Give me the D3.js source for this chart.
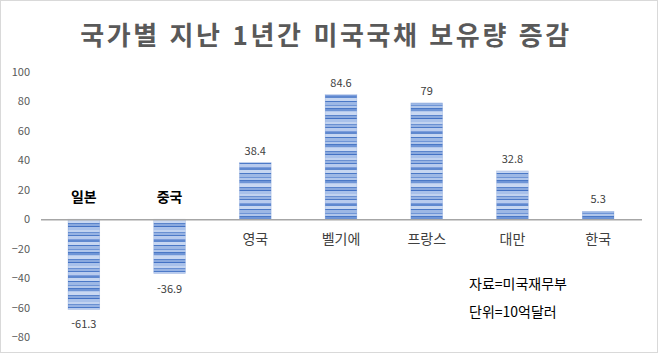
<!DOCTYPE html>
<html lang="ko">
<head>
<meta charset="utf-8">
<title>국가별 미국국채 보유량 증감</title>
<script src="https://d3js.org/d3.v7.min.js"></script>
<style>
  body { margin: 0; background: #fff; }
  text { font-family: "Noto Sans CJK KR", "Malgun Gothic", sans-serif; }
</style>
</head>
<body>
<div id="chart"></div>
<script>
// data
var countries = ["일본", "중국", "영국", "벨기에", "프랑스", "대만", "한국"];
var changes = [-61.3, -36.9, 38.4, 84.6, 79, 32.8, 5.3];
var yTicks = [100, 80, 60, 40, 20, 0, -20, -40, -60, -80];

var width = 658, height = 353;
var margin = {top: 72, right: 16, bottom: 16, left: 41};

var svg = d3.select("#chart").append("svg")
    .attr("width", width)
    .attr("height", height);

// outer frame
svg.append("rect")
    .attr("x", 0.5).attr("y", 0.5)
    .attr("width", width - 1).attr("height", height - 1)
    .attr("fill", "#fff")
    .attr("stroke", "#d9d9d9");

// striped texture like the excel fill
var defs = svg.append("defs");
var pat = defs.append("pattern")
    .attr("id", "stripes")
    .attr("patternUnits", "userSpaceOnUse")
    .attr("width", 8).attr("height", 36);
pat.append("rect").attr("width", 8).attr("height", 36).attr("fill", "#8eaee2");
var stripes = [
  [0, 1, "#4a78c6"], [1, 2, "#6f95d6"], [3, 1, "#b3c8ec"], [4, 3, "#c9d8f2"],
  [7, 1, "#5a84cc"], [8, 2, "#8aa9de"], [10, 1, "#4472c4"], [11, 3, "#a9c1ea"],
  [14, 2, "#c2d3f0"], [16, 1, "#6a90d2"], [17, 2, "#97b3e3"], [19, 1, "#4d7ac8"],
  [20, 3, "#b8cbee"], [23, 1, "#7c9ddb"], [24, 2, "#5f88cf"], [26, 3, "#c6d6f1"],
  [29, 1, "#4a78c6"], [30, 3, "#9db8e5"], [33, 1, "#6f95d6"], [34, 2, "#b0c6eb"]
];
stripes.forEach(function(s) {
  pat.append("rect").attr("y", s[0]).attr("width", 8).attr("height", s[1]).attr("fill", s[2]);
});

// title
svg.append("text")
    .attr("x", 326).attr("y", 45)
    .attr("text-anchor", "middle")
    .attr("fill", "#595959")
    .attr("font-size", 26)
    .attr("font-weight", "bold")
    .attr("letter-spacing", 2.6)
    .text("국가별 지난 1년간 미국국채 보유량 증감");

var x = d3.scaleBand()
    .domain(countries)
    .range([margin.left, width - margin.right - 1])
    .paddingInner(0.63)
    .paddingOuter(0.315);

var y = d3.scaleLinear()
    .domain([-80, 100])
    .range([337, 72]);

// y axis labels
var yAxis = d3.axisLeft(y).tickValues(yTicks).tickSize(0).tickPadding(0);
var gy = svg.append("g")
    .attr("transform", "translate(30,0)")
    .call(yAxis);
gy.select(".domain").remove();
gy.selectAll("text")
    .attr("fill", "#595959")
    .attr("font-size", 11)
    .attr("font-family", "Liberation Sans, Arial, sans-serif");

// bars
svg.selectAll(".bar")
    .data(countries)
    .enter().append("rect")
    .attr("class", "bar")
    .attr("x", function(d) { return x(d); })
    .attr("width", x.bandwidth())
    .attr("y", function(d, i) { return y(Math.max(0, changes[i])); })
    .attr("height", function(d, i) { return Math.abs(y(changes[i]) - y(0)); })
    .attr("fill", "url(#stripes)")
    .attr("stroke", "#4472c4")
    .attr("stroke-opacity", 0.3)
    .attr("stroke-width", 0.6);

// zero line
svg.append("line")
    .attr("x1", margin.left).attr("x2", width - margin.right)
    .attr("y1", y(0) + 0.5).attr("y2", y(0) + 0.5)
    .attr("stroke", "#a6a6a6")
    .attr("stroke-width", 1.5);

// value labels
svg.selectAll(".val")
    .data(countries)
    .enter().append("text")
    .attr("class", "val")
    .attr("x", function(d) { return x(d) + x.bandwidth() / 2; })
    .attr("y", function(d, i) {
      return changes[i] < 0 ? y(changes[i]) + 19 : y(changes[i]) - 8;
    })
    .attr("text-anchor", "middle")
    .attr("fill", "#404040")
    .attr("font-size", 11)
    .attr("font-family", "Liberation Sans, Arial, sans-serif")
    .text(function(d, i) { return changes[i]; });

// category labels, above axis for negative bars
svg.selectAll(".cat")
    .data(countries)
    .enter().append("text")
    .attr("class", "cat")
    .attr("x", function(d) { return x(d) + x.bandwidth() / 2; })
    .attr("y", function(d, i) { return changes[i] < 0 ? y(0) - 17 : y(0) + 25; })
    .attr("text-anchor", "middle")
    .attr("fill", function(d, i) { return changes[i] < 0 ? "#000" : "#404040"; })
    .attr("font-size", 14)
    .attr("font-weight", function(d, i) { return changes[i] < 0 ? "bold" : "normal"; })
    .text(function(d) { return d; });

// notes
svg.append("text")
    .attr("x", 469).attr("y", 289)
    .attr("fill", "#000")
    .attr("font-size", 14)
    .text("자료=미국재무부");
svg.append("text")
    .attr("x", 469).attr("y", 317)
    .attr("fill", "#000")
    .attr("font-size", 14)
    .text("단위=10억달러");
</script>
</body>
</html>
